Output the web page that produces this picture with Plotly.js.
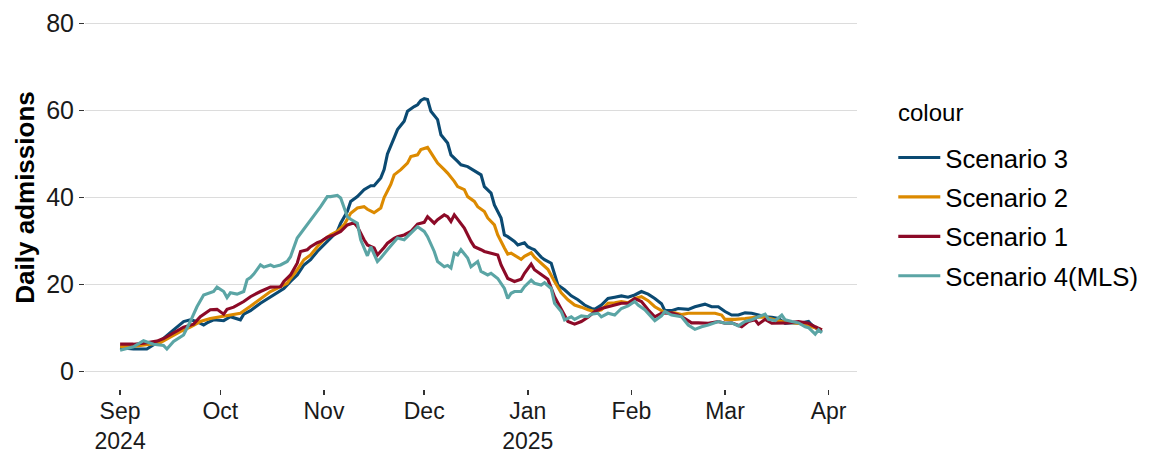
<!DOCTYPE html>
<html>
<head>
<meta charset="utf-8">
<script src="https://cdn.plot.ly/plotly-3.0.1.min.js"></script>
<style>html,body{margin:0;padding:0;background:#fff;}#chart{width:1169px;height:455px;}</style>
</head>
<body>
<div id="chart"></div>
<script>
// Day offsets are days since the season start date
const startDate = '2024-09-01';

const s3Day = [0,4,8,10,13,16,19,21,23,25,26,28,31,33,36,37,39,42,45,48,49,51,53,55,57,59,61,63,65,66,68,69,71,73,75,76,78,79,80,82,83,85,86,88,89,90,91,92,93,95,96,98,99,101,102,104,106,108,109,111,112,114,115,116,118,119,121,122,123,124,126,127,129,130,131,133,135,137,139,141,142,144,146,148,150,152,154,156,158,160,162,163,165,167,170,172,175,177,179,181,183,185,187,189,191,193,195,197,199,200,202,204,206,207,209,210];
const s3Value = [5.5,5.2,5.2,6.1,7.6,9.6,11.5,11.9,11.5,10.7,11.2,11.9,11.7,12.6,11.9,13.2,14.0,15.7,17.2,18.8,19.1,20.7,22.2,24.5,25.7,27.6,29.1,30.7,32.2,34.1,36.8,39.1,40.2,41.8,42.7,42.7,44.5,46.4,50.0,53.7,55.6,57.5,59.8,60.9,61.3,62.3,62.7,62.5,59.8,57.9,54.4,52.5,49.8,48.3,47.5,47.1,46.1,45.2,42.5,41.0,38.3,35.3,31.4,31.0,29.9,29.1,29.6,28.7,28.3,28.0,26.3,25.7,24.9,22.6,19.9,18.8,17.4,16.5,15.3,14.5,14.3,15.3,16.8,17.1,17.4,17.1,17.6,18.4,17.8,16.8,15.6,14.0,14.0,14.5,14.3,14.9,15.5,14.9,14.9,13.8,13.0,13.0,13.5,13.4,13.0,12.6,12.5,12.2,11.1,11.2,11.2,11.2,11.5,10.7,9.6,9.2];

const s2Day = [0,5,9,12,15,18,21,24,27,30,33,36,39,42,45,48,50,51,53,55,57,59,61,63,65,67,69,71,73,74,76,78,79,81,82,84,86,87,89,90,91,92,94,95,97,98,100,101,103,104,106,107,109,110,112,113,115,116,117,119,120,121,123,124,126,128,130,132,134,136,138,140,142,144,146,148,150,152,154,156,158,160,162,164,166,168,170,173,175,178,180,181,184,187,190,193,196,198,202,205,207,210];
const s2Value = [5.7,5.9,6.3,6.6,7.9,9.2,10.2,11.5,12.2,12.6,13.0,13.4,15.0,16.8,18.4,19.5,20.3,21.4,23.4,25.7,26.8,28.7,30.3,31.4,32.2,33.7,36.4,37.6,37.9,37.3,36.5,37.6,40.0,43.0,45.2,46.4,47.9,49.4,49.8,51.0,51.3,51.5,49.1,47.9,46.4,45.6,43.7,42.5,41.8,40.2,39.1,37.9,36.8,35.3,33.7,31.4,28.4,27.0,27.2,26.4,25.8,26.5,27.3,26.3,24.9,23.5,20.7,18.1,16.5,15.3,14.8,14.2,13.8,14.2,15.7,15.8,16.1,15.8,16.8,17.2,16.3,14.9,14.0,13.4,13.5,13.1,13.4,13.5,13.4,13.4,13.0,12.0,12.0,12.2,12.5,12.5,12.0,11.5,11.2,10.9,10.3,9.6];

const s1Day = [0,4,7,11,13,16,19,22,24,27,29,31,32,34,37,39,41,42,45,48,49,51,53,54,56,57,59,60,62,64,66,67,68,70,71,73,74,76,77,79,80,82,83,85,87,89,91,92,94,95,97,98,99,100,102,103,105,106,108,109,111,113,114,116,118,120,121,123,124,126,128,130,132,134,136,138,140,142,144,146,148,150,152,154,156,158,160,162,165,167,169,171,173,176,179,181,183,186,188,190,191,193,195,197,200,203,206,208,210];
const s1Value = [6.3,6.3,6.5,7.0,7.6,8.9,10.2,10.9,12.6,14.2,14.3,13.2,14.3,14.8,16.1,17.2,18.0,18.4,19.4,19.5,20.7,22.2,24.9,27.6,28.0,28.7,29.6,29.9,30.9,31.4,32.2,33.0,33.7,34.2,33.3,30.3,29.1,28.4,26.8,28.5,29.5,30.6,31.0,31.4,32.2,33.9,34.3,35.6,34.1,34.9,36.0,35.6,34.5,36.0,34.1,33.0,29.9,28.7,28.0,27.6,27.2,26.8,24.5,21.4,20.7,21.2,22.6,24.7,23.4,22.4,21.2,17.2,14.2,11.5,10.9,11.5,12.5,13.8,14.5,14.9,15.3,15.7,15.7,16.8,16.1,14.2,12.6,13.4,13.5,13.0,12.2,11.2,11.2,11.1,11.5,11.1,11.2,10.3,11.5,11.9,10.9,12.0,11.1,11.1,11.2,11.5,11.1,10.3,9.6];

const s4Day = [0,4,7,10,13,14,16,19,21,23,25,28,29,31,32,33,35,37,38,39,40,41,42,43,45,46,48,50,51,53,55,57,59,60,62,63,65,66,68,69,71,72,74,75,77,78,80,81,83,85,87,89,91,92,94,95,97,98,99,100,101,102,104,105,107,108,110,111,113,115,116,117,118,120,121,123,124,126,127,129,130,132,133,135,136,138,140,141,143,144,146,148,150,152,154,155,157,159,160,162,163,165,168,170,172,174,176,179,181,183,185,187,189,191,193,194,196,198,199,201,203,205,206,208,209,210];
const s4Value = [4.9,5.7,7.1,6.3,6.0,5.2,6.9,8.4,11.5,14.9,17.6,18.4,19.4,18.4,17.0,18.1,17.8,18.4,21.1,21.6,22.4,23.4,24.5,24.0,24.5,24.1,24.5,25.3,26.4,30.7,32.7,34.9,36.8,37.9,40.2,40.2,40.5,39.9,35.6,35.0,34.1,30.3,26.6,28.7,25.3,26.1,28.0,28.9,30.7,30.3,31.8,33.3,32.2,31.0,27.6,25.3,24.1,24.4,23.8,27.2,26.8,28.0,26.1,24.1,25.3,23.0,22.2,22.6,21.4,19.1,16.8,18.0,18.4,18.4,19.5,21.0,20.3,19.9,20.4,19.1,15.7,13.8,11.9,12.6,12.0,12.8,12.6,13.2,13.4,12.6,13.4,13.0,14.5,15.1,16.1,15.3,14.2,12.6,11.7,12.8,13.8,13.0,12.6,10.7,9.7,10.3,10.7,11.5,11.1,11.2,10.5,11.5,11.9,12.6,13.2,12.0,11.7,13.0,11.9,11.5,11.2,10.3,10.1,8.6,9.6,8.9];

const seriesNames = ['Scenario 3','Scenario 2','Scenario 1','Scenario 4(MLS)'];
const seriesColors = ['#0b4a72','#dc8a00','#8c0a27','#5ba5a5'];
const legendTitle = 'colour';
const yTitle = 'Daily admissions';

const yTickVals = [0,20,40,60,80];
const xTickDates = ['2024-09-01','2024-10-01','2024-11-01','2024-12-01','2025-01-01','2025-02-01','2025-03-01','2025-04-01'];
const xTickText = ['Sep<br>2024','Oct','Nov','Dec','Jan<br>2025','Feb','Mar','Apr'];

const DAY = 86400000;
const t0 = Date.parse(startDate + 'T00:00:00Z');
function toDate(d){ return new Date(t0 + d*DAY).toISOString().slice(0,19).replace('T',' '); }

const days = [s3Day, s2Day, s1Day, s4Day];
const vals = [s3Value, s2Value, s1Value, s4Value];

const traces = seriesNames.map((name,i)=>({
  type:'scatter', mode:'lines', name:name, legendgroup:'g'+i,
  x: days[i].map(toDate), y: vals[i],
  line:{color:seriesColors[i], width:3.1}
}));

const allDays = [].concat(...days);
const dMin = Math.min(...allDays), dMax = Math.max(...allDays);
const pad = (dMax-dMin)*0.05;
const yMin = 0, yMax = 80, yPad = (yMax-yMin)*0.05;

const font = "'Liberation Sans', Arial, sans-serif";
const layout = {
  width:1169, height:455,
  margin:{l:85, r:312, t:6, b:66},
  paper_bgcolor:'#fff', plot_bgcolor:'#fff',
  font:{family:font, color:'#1a1a1a', size:25},
  showlegend:true,
  legend:{x:1.047, xanchor:'left', y:0.665, yanchor:'top', traceorder:'grouped', tracegroupgap:3,
    font:{size:25.7, color:'#000'}, itemwidth:42},
  annotations:[{text:legendTitle, xref:'paper', yref:'paper', x:1.0505, y:0.7232, xanchor:'left', yanchor:'middle',
    showarrow:false, font:{size:24, color:'#000'}}],
  xaxis:{type:'date', range:[toDate(dMin-pad), toDate(dMax+pad)], tickvals:xTickDates, ticktext:xTickText,
    showgrid:false, zeroline:false, showline:false, ticks:'outside', ticklen:5, tickwidth:1.5, tickcolor:'#333',
    ticklabelstandoff:-4, tickfont:{size:23, color:'#1a1a1a'}, fixedrange:true},
  yaxis:{range:[yMin-yPad, yMax+yPad], tickvals:yTickVals, showgrid:true, gridcolor:'#dcdcdc', gridwidth:1.8,
    zeroline:false, showline:false, ticks:'outside', ticklen:5, tickwidth:1.5, tickcolor:'#333',
    tickfont:{size:25, color:'#1a1a1a'},
    title:{text:'<b>'+yTitle+'</b>', font:{size:26, color:'#000'}, standoff:4}}
};
Plotly.newPlot('chart', traces, layout, {displayModeBar:false, staticPlot:true});
</script>
</body>
</html>
